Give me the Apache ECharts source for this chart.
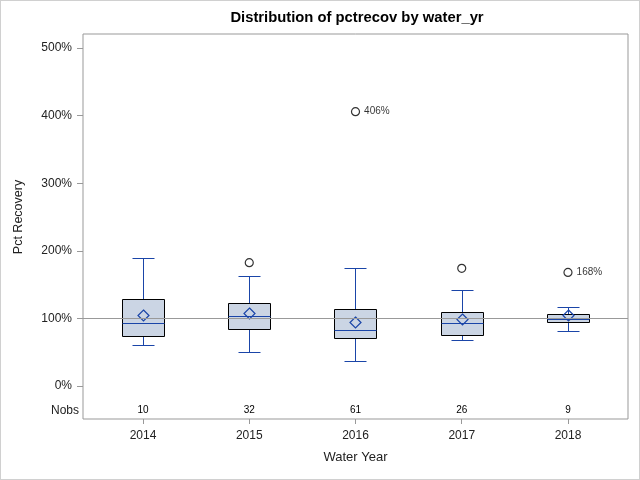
<!DOCTYPE html>
<html><head><meta charset="utf-8">
<script src="https://cdn.jsdelivr.net/npm/echarts@6/dist/echarts.min.js"></script>
<style>html,body{margin:0;padding:0;background:#fff}#c{width:640px;height:480px}#b{position:absolute;left:0;top:0;width:640px;height:480px;box-sizing:border-box;border:1px solid #d0d0d0;pointer-events:none}</style>
</head><body><div id="c"></div><div id="b"></div>
<script>
const categories = ['2014', '2015', '2016', '2017', '2018'];
const whiskerLow = [60.2, 49.9, 37.0, 68.0, 81.8];
const q1 = [73.5, 83.9, 70.5, 75.0, 94.7];
const median = [92.8, 103.1, 82.8, 93.2, 99.6];
const q3 = [128.3, 122.3, 113.4, 109.5, 106.0];
const whiskerHigh = [188.9, 162.3, 174.1, 141.6, 116.4];
const mean = [105.0, 107.5, 94.2, 99.1, 105.5];
const nobs = [10, 32, 61, 26, 9];
// [category index, value, show label]
const outliers = [[1, 182.4, false], [2, 406, true], [3, 174.1, false], [4, 168, true]];
const yTicks = [0, 100, 200, 300, 400, 500];
const refValue = 100;
const nobsRow = -36;

const BLUE = '#1a45a8';
const FONT = 'Arial, "Liberation Sans", sans-serif';

const boxData = categories.map((c, i) => [i, whiskerLow[i], q1[i], median[i], q3[i], whiskerHigh[i], mean[i]]);

const px = v => Math.round(v) + 0.5;

function renderBox(params, api) {
  const i = api.value(0);
  const bw = api.size([1, 0])[0];
  const half = Math.round(bw * 0.198);
  const cap = Math.round(half * 0.5);
  const p = k => api.coord([i, api.value(k)]);
  const lo = p(1), b1 = p(2), md = p(3), b3 = p(4), hi = p(5), mn = p(6);
  const x = px(lo[0]);
  const yl = px(lo[1]), y1 = px(b1[1]), ym = px(md[1]), y3 = px(b3[1]), yh = px(hi[1]), yn = px(mn[1]);
  const ls = { stroke: BLUE, lineWidth: 1 };
  const d = 5.5;
  return {
    type: 'group',
    children: [
      { type: 'line', shape: { x1: x, y1: yl, x2: x, y2: y1 }, style: ls },
      { type: 'line', shape: { x1: x, y1: y3, x2: x, y2: yh }, style: ls },
      { type: 'line', shape: { x1: x - cap, y1: yl, x2: x + cap, y2: yl }, style: ls },
      { type: 'line', shape: { x1: x - cap, y1: yh, x2: x + cap, y2: yh }, style: ls },
      { type: 'rect', shape: { x: x - half, y: y3, width: half * 2, height: y1 - y3 },
        style: { fill: '#cbd5e4', stroke: '#000', lineWidth: 1 } },
      { type: 'line', shape: { x1: x - half, y1: ym, x2: x + half, y2: ym }, style: ls, z2: 5 },
      { type: 'polygon', shape: { points: [[x, yn - d], [x + d, yn], [x, yn + d], [x - d, yn]] },
        style: { fill: 'none', stroke: BLUE, lineWidth: 1.2 }, z2: 20 }
    ]
  };
}

function renderNobs(params, api) {
  const c = api.coord([api.value(0), nobsRow]);
  return { type: 'text', x: c[0], y: c[1],
    style: { text: String(api.value(1)), fontSize: 10, fontFamily: FONT, fill: '#000', align: 'center', verticalAlign: 'middle' } };
}

const chart = echarts.init(document.getElementById('c'), null, { renderer: 'canvas' });
chart.setOption({
  animation: false,
  backgroundColor: '#fff',
  title: {
    text: 'Distribution of pctrecov by water_yr',
    left: 357, top: 10, textAlign: 'center', padding: 0,
    textStyle: { fontSize: 14.8, fontWeight: 'bold', fontFamily: FONT, color: '#000' }
  },
  grid: { left: 83, right: 12, top: 34, bottom: 61, show: true, borderColor: '#999', borderWidth: 1, containLabel: false },
  xAxis: {
    type: 'value', min: -0.565, max: 4.565,
    splitLine: { show: false }, axisLine: { show: false, onZero: false },
    axisTick: { show: true, customValues: categories.map((c, i) => i), length: 5, lineStyle: { color: '#999' } },
    axisLabel: { customValues: categories.map((c, i) => i), formatter: v => categories[Math.round(v)], margin: 11, fontSize: 12, fontFamily: FONT, color: '#222' },
    name: 'Water Year', nameLocation: 'middle', nameGap: 32,
    nameTextStyle: { fontSize: 13, fontFamily: FONT, color: '#222' }
  },
  yAxis: {
    type: 'value', min: -49, max: 521,
    splitLine: { show: false }, axisLine: { show: false, onZero: false },
    axisTick: { show: true, customValues: yTicks, length: 6, lineStyle: { color: '#999' } },
    axisLabel: {
      customValues: [nobsRow].concat(yTicks), margin: 4, fontSize: 12, fontFamily: FONT, color: '#222',
      formatter: v => v < 0 ? '{n|Nobs}' : '{t|' + v + '%}',
      rich: { n: { fontSize: 12, fontFamily: FONT, color: '#222' }, t: { fontSize: 12, fontFamily: FONT, color: '#222', padding: [0, 7, 0, 0] } }
    },
    name: 'Pct Recovery', nameLocation: 'middle', nameRotate: 90, nameGap: 58,
    nameTextStyle: { fontSize: 12.5, fontFamily: FONT, color: '#222', padding: [0, 0, 0, 19] }
  },
  series: [
    { type: 'custom', renderItem: renderBox, data: boxData, encode: { x: 0, y: [1, 2, 3, 4, 5, 6] }, z: 2, clip: false },
    { type: 'line', data: [], z: 3, markLine: { silent: true, symbol: 'none', label: { show: false },
      lineStyle: { color: '#999', type: 'solid', width: 1 }, data: [{ yAxis: refValue }] } },
    { type: 'custom', renderItem: renderNobs, data: categories.map((c, i) => [i, nobs[i]]), encode: { x: 0, y: -1 }, z: 4 },
    { type: 'scatter', z: 5, symbol: 'circle', symbolSize: 8,
      itemStyle: { color: '#fff', borderColor: '#000', borderWidth: 1.2 },
      data: outliers.map(o => ({ value: [o[0], o[1]], label: { show: o[2] } })),
      label: { position: 'right', distance: 4, formatter: p => p.value[1] + '%', fontSize: 10, fontFamily: FONT, color: '#000' } }
  ]
});
</script></body></html>
